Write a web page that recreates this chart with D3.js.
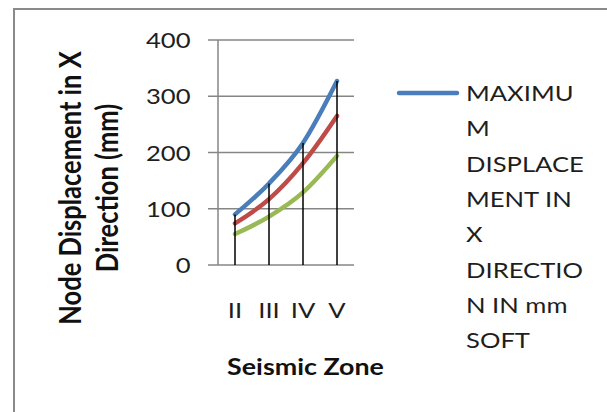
<!DOCTYPE html>
<html>
<head>
<meta charset="utf-8">
<script src="https://cdn.jsdelivr.net/npm/d3@7"></script>
<style>
  body { margin: 0; background: #fff; }
  svg { display: block; }
</style>
</head>
<body>
<svg id="chart" width="607" height="412"></svg>
<script>
// data
const zones = ['II', 'III', 'IV', 'V'];
const softValues = [90, 145, 217, 327];
const mediumValues = [74, 117, 181, 265];
const hardValues = [55, 86, 129, 194];
const yTicks = [0, 100, 200, 300, 400];
const legendLines = ['MAXIMU', 'M', 'DISPLACE', 'MENT IN', 'X', 'DIRECTIO', 'N IN mm', 'SOFT'];

const series = [
    {name: 'SOFT', values: softValues, color: '#4A7EBB'},
    {name: 'MEDIUM', values: mediumValues, color: '#BE4B48'},
    {name: 'HARD', values: hardValues, color: '#98B954'}
];

const root = d3.select('#chart');

const FONT = 'Lato, Calibri, Carlito, sans-serif';
const SX = 1.22;               // the picture is stretched sideways
const PLOT_LEFT = 218;
const PLOT_RIGHT = 354;
const PLOT_TOP = 40;
const PLOT_BOTTOM = 265;
const TICK_LEN = 10;
const GRID_COLOR = '#868686';

const x = d3.scalePoint().domain(zones).range([PLOT_LEFT, PLOT_RIGHT]).padding(0.5);
const y = d3.scaleLinear().domain([0, 400]).range([PLOT_BOTTOM, PLOT_TOP]);

// chart frame
root.append('rect')
    .attr('x', 14).attr('y', 9)
    .attr('width', 620).attr('height', 430)
    .attr('fill', 'none')
    .attr('stroke', '#8a8a8a')
    .attr('stroke-width', 2);

// gridlines + tick marks
yTicks.forEach(t => {
    root.append('line')
        .attr('x1', PLOT_LEFT - TICK_LEN).attr('x2', PLOT_RIGHT)
        .attr('y1', y(t)).attr('y2', y(t))
        .attr('stroke', GRID_COLOR)
        .attr('stroke-width', 1.5);

    root.append('text')
        .text(t)
        .attr('transform', `translate(190.5,${y(t)}) scale(${SX},1)`)
        .attr('font-family', FONT)
        .attr('font-size', 21)
        .attr('fill', '#1e1e1e')
        .attr('text-anchor', 'end')
        .attr('dominant-baseline', 'central');
});

// vertical axis line
root.append('line')
    .attr('x1', PLOT_LEFT).attr('x2', PLOT_LEFT)
    .attr('y1', y(0)).attr('y2', y(400))
    .attr('stroke', GRID_COLOR)
    .attr('stroke-width', 1.5);

// category labels
zones.forEach(z => {
    root.append('text')
        .text(z)
        .attr('transform', `translate(${x(z)},310) scale(${SX},1)`)
        .attr('font-family', FONT)
        .attr('font-size', 21)
        .attr('fill', '#1e1e1e')
        .attr('text-anchor', 'middle')
        .attr('dominant-baseline', 'central');
});

// series lines (smoothed like the spreadsheet)
const line = d3.line()
    .x((d, i) => x(zones[i]))
    .y(d => y(d))
    .curve(d3.curveCatmullRom.alpha(0));

series.slice().reverse().forEach(s => {
    root.append('path')
        .datum(s.values)
        .attr('d', line)
        .attr('fill', 'none')
        .attr('stroke', s.color)
        .attr('stroke-width', 4.5)
        .attr('stroke-linecap', 'round')
        .attr('stroke-linejoin', 'round');
});

// drop lines from the highest point to the axis
zones.forEach((z, i) => {
    const top = d3.max(series, s => s.values[i]);
    root.append('line')
        .attr('x1', x(z)).attr('x2', x(z))
        .attr('y1', y(top)).attr('y2', y(0))
        .attr('stroke', '#000')
        .attr('stroke-width', 1.5);
});

// y axis title
['Node Displacement in X', 'Direction (mm)'].forEach((txt, i) => {
    root.append('text')
        .text(txt)
        .attr('transform', `translate(${68.5 + i * 37.5},188) scale(${SX},1) rotate(-90)`)
        .attr('font-family', FONT)
        .attr('font-weight', 'bold')
        .attr('font-size', 25.5)
        .attr('fill', '#111')
        .attr('text-anchor', 'middle')
        .attr('dominant-baseline', 'central');
});

// x axis title
root.append('text')
    .text('Seismic Zone')
    .attr('transform', `translate(305.5,366) scale(${SX},1)`)
    .attr('font-family', FONT)
    .attr('font-weight', 'bold')
    .attr('font-size', 22)
    .attr('fill', '#111')
    .attr('text-anchor', 'middle')
    .attr('dominant-baseline', 'central');

// legend (only the first entry is inside the frame)
root.append('line')
    .attr('x1', 399).attr('x2', 457)
    .attr('y1', 93).attr('y2', 93)
    .attr('stroke', series[0].color)
    .attr('stroke-width', 4.5)
    .attr('stroke-linecap', 'round');

legendLines.forEach((txt, i) => {
    root.append('text')
        .text(txt)
        .attr('transform', `translate(466,${93 + i * 35.3}) scale(${SX},1)`)
        .attr('font-family', FONT)
        .attr('font-size', 21)
        .attr('fill', '#1e1e1e')
        .attr('text-anchor', 'start')
        .attr('dominant-baseline', 'central');
});
</script>
</body>
</html>
